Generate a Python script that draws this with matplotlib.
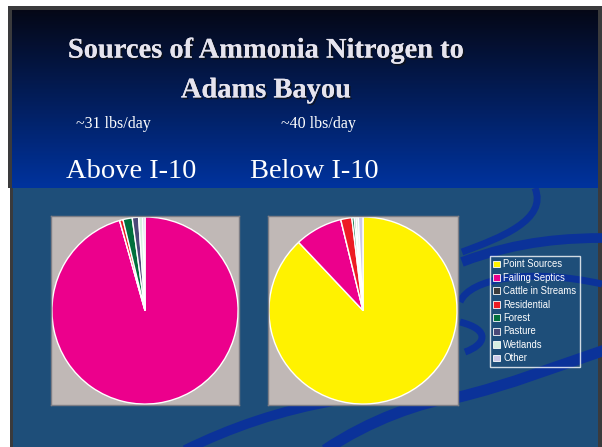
import numpy as np
import matplotlib
matplotlib.use("Agg")
import matplotlib.pyplot as plt
from matplotlib.patches import Rectangle, Patch, PathPatch
from matplotlib.path import Path
import matplotlib.patheffects as pe

# ---- data ----
categories = ["Point Sources", "Failing Septics", "Cattle in Streams", "Residential",
              "Forest", "Pasture", "Wetlands", "Other"]
colors = ["#fff200", "#ec008c", "#3c3c3c", "#ed1c24", "#00703c", "#4b4a78", "#d6eee0", "#cbc8e8"]
above_i10 = [0.0, 95.6, 0.0, 0.6, 1.6, 1.1, 0.7, 0.4]
below_i10 = [88.0, 8.2, 0.0, 1.9, 0.4, 0.3, 0.4, 0.8]
title_text = "Sources of Ammonia Nitrogen to\nAdams Bayou"
loads = ["~31 lbs/day", "~40 lbs/day"]
panel_titles = ["Above I-10", "Below I-10"]

W, H = 602, 447
fig = plt.figure(figsize=(W / 100, H / 100), dpi=100)
fig.patch.set_facecolor("white")

# background axes in pixel coordinates
bg = fig.add_axes([0, 0, 1, 1])
bg.axis("off")

# slide border
bg.add_patch(Rectangle((8, 6), 594, 441, facecolor="#3a3a3c", edgecolor="none"))
# lower section
bg.add_patch(Rectangle((12, 188), 586, 259, facecolor="#1e4e79", edgecolor="none"))

# decorative swooshes (cubic Bezier ribbons)
swoosh_color = "#0b3299"
swooshes = [
    ([(185, 450), (230, 428), (280, 410), (340, 400)], 7),
    ([(325, 450), (370, 420), (420, 402), (460, 396)], 8),
    ([(455, 398), (510, 385), (560, 365), (605, 350)], 8),
    ([(535, 188), (548, 220), (500, 238), (462, 252)], 5),
    ([(462, 262), (520, 240), (570, 238), (605, 238)], 7),
    ([(602, 284), (530, 268), (470, 278), (460, 302)], 5),
    ([(460, 322), (492, 330), (485, 345), (465, 352)], 5),
]
for pts, lw in swooshes:
    path = Path(pts, [Path.MOVETO, Path.CURVE4, Path.CURVE4, Path.CURVE4])
    bg.add_patch(PathPatch(path, facecolor="none", edgecolor=swoosh_color, lw=lw,
                           capstyle="butt", zorder=1))

# top gradient section
grad = np.linspace(0, 1, 200).reshape(-1, 1)
top_c = np.array([0.02, 0.03, 0.09])
bot_c = np.array([0.0, 0.2, 0.62])
img = top_c + (bot_c - top_c) * grad
img = np.repeat(img[:, None, :], 2, axis=1).reshape(200, 2, 3)
bg.imshow(img, extent=(12, 598, 188, 10), aspect="auto", zorder=2)
bg.set_xlim(0, W)
bg.set_ylim(H, 0)
# white strip left of the lower section (as in the reference)
bg.add_patch(Rectangle((0, 188), 10, 259, facecolor="white", edgecolor="none", zorder=3))
bg.add_patch(Rectangle((10, 188), 3, 259, facecolor="#3a3a3c", edgecolor="none", zorder=3))

shadow = [pe.withSimplePatchShadow(offset=(1.2, -1.2), shadow_rgbFace="#111111", alpha=0.7), pe.Normal()]
bg.text(266, 71, title_text, ha="center", va="center", fontsize=20.5, fontweight="bold",
        family="Liberation Serif", color="#e6e4ee", linespacing=1.78, path_effects=shadow, zorder=5)
bg.text(113, 124, loads[0], ha="center", va="center", fontsize=11.5, family="Liberation Serif",
        color="white", zorder=5)
bg.text(318, 124, loads[1], ha="center", va="center", fontsize=11.5, family="Liberation Serif",
        color="white", zorder=5)
bg.text(131, 172, panel_titles[0], ha="center", va="center", fontsize=20.5, family="Liberation Serif",
        color="white", zorder=5)
bg.text(314, 172, panel_titles[1], ha="center", va="center", fontsize=20.5, family="Liberation Serif",
        color="white", zorder=5)


def pie_axes(x0, y0, x1, y1):
    return fig.add_axes([x0 / W, 1 - y1 / H, (x1 - x0) / W, (y1 - y0) / H])


for vals, box in [(above_i10, (51, 216, 239, 405)), (below_i10, (268, 216, 458, 405))]:
    ax = pie_axes(*box)
    ax.pie(vals, colors=colors, startangle=90, counterclock=False, radius=0.99,
           wedgeprops=dict(edgecolor="white", linewidth=1.0))
    ax.set_xlim(-1.0, 1.0)
    ax.set_ylim(-1.0, 1.0)
    ax.set_aspect("auto")
    ax.set_frame_on(True)
    ax.set_facecolor("#c0b8b6")
    for s in ax.spines.values():
        s.set_visible(True)
        s.set_color("#7d7d85")
        s.set_linewidth(1.0)
    ax.set_xticks([])
    ax.set_yticks([])

handles = [Patch(facecolor=c, edgecolor="white", linewidth=0.6, label=l) for c, l in zip(colors, categories)]
leg = fig.legend(handles=handles, loc="upper left", bbox_to_anchor=(490 / W, 1 - 256 / H),
                 frameon=True, handlelength=0.75, handleheight=0.75, handletextpad=0.3,
                 labelspacing=0.36, borderpad=0.35, borderaxespad=0, labelcolor="white",
                 prop={"family": "Liberation Sans", "size": 6.85})
leg.get_frame().set_facecolor("none")
leg.get_frame().set_edgecolor("white")
leg.get_frame().set_linewidth(1.0)
leg.get_frame().set_boxstyle("square", pad=0)

fig.savefig("out.png", dpi=100, facecolor=fig.get_facecolor())
